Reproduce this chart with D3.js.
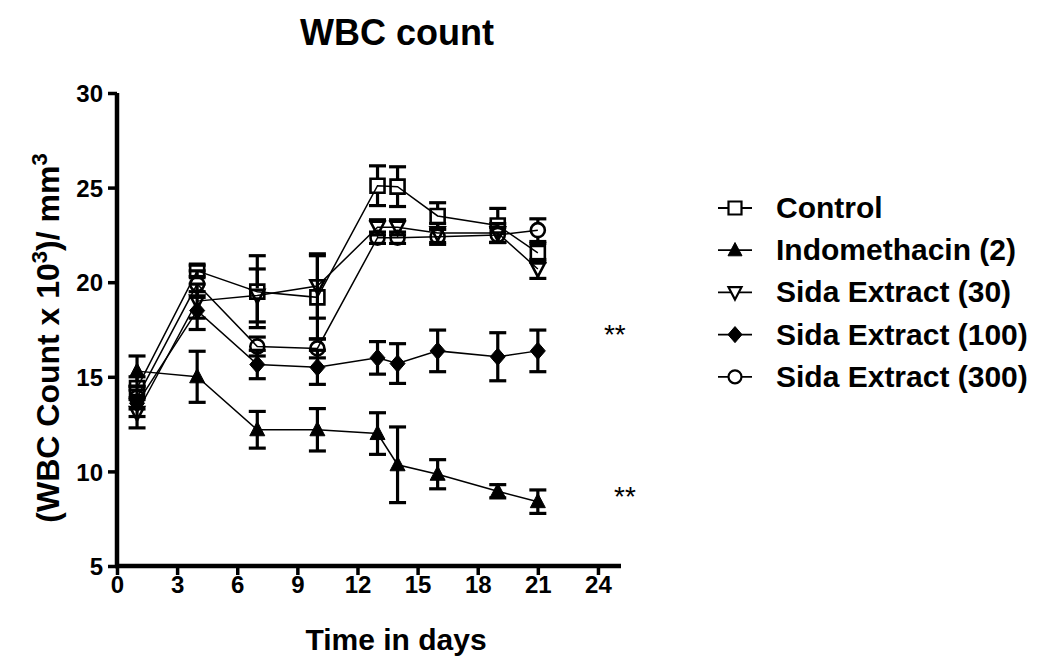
<!DOCTYPE html>
<html>
<head>
<meta charset="utf-8">
<script src="https://cdn.jsdelivr.net/npm/d3@7"></script>
<style>
  body { margin: 0; background: #fff; }
  text { font-family: "Liberation Sans", Arial, sans-serif; fill: #000; }
</style>
</head>
<body>
<div id="chart"></div>
<script>
// WBC count data (mean and SEM)
var days = [1, 4, 7, 10, 13, 14, 16, 19, 21];

var control      = [14.4, 20.6, 19.5, 19.2, 25.1, 25.05, 23.5, 23.0, 21.55];
var controlErr   = [0.6, 0.3, 1.9, 2.2, 1.05, 1.05, 0.7, 0.9, 0.5];

var indo         = [15.3, 15.0, 12.2, 12.2, 12.0, 10.35, 9.85, 8.95, 8.4];
var indoErr      = [0.8, 1.35, 0.97, 1.12, 1.1, 2.0, 0.77, 0.35, 0.62];

var sida30       = [13.1, 19.0, 19.3, 19.8, 22.9, 22.9, 22.6, 22.6, 20.7];
var sida30Err    = [0.8, 0.9, 1.4, 1.7, 0.4, 0.4, 0.5, 0.5, 0.5];

var sida100      = [13.6, 18.5, 15.65, 15.5, 16.0, 15.7, 16.37, 16.06, 16.37];
var sida100Err   = [0.7, 1.0, 0.75, 0.9, 0.86, 1.05, 1.1, 1.27, 1.1];

var sida300      = [13.9, 19.9, 16.6, 16.5, 22.35, 22.35, 22.4, 22.5, 22.75];
var sida300Err   = [0.6, 0.7, 0.5, 0.5, 0.3, 0.3, 0.4, 0.4, 0.6];

var seriesNames  = ['Control', 'Indomethacin (2)', 'Sida Extract (30)', 'Sida Extract (100)', 'Sida Extract (300)'];
var seriesShapes = ['square', 'triangle', 'triangleDown', 'diamond', 'circle'];

var xTicks = [0, 3, 6, 9, 12, 15, 18, 21, 24];
var yTicks = [5, 10, 15, 20, 25, 30];

// significance marks to the right of the last points
var marks = [
    { day: 24.3, value: 17.5, label: '**' },
    { day: 24.8, value: 8.9, label: '**' }
];

var width = 1040, height = 658;

var svg = d3.select('#chart')
            .append('svg')
            .attr('width', width)
            .attr('height', height);

var x = d3.scaleLinear().domain([0, 25]).range([117, 618]);
var y = d3.scaleLinear().domain([5, 30]).range([566, 93]);

var series = [
    { values: control, err: controlErr },
    { values: indo, err: indoErr },
    { values: sida30, err: sida30Err },
    { values: sida100, err: sida100Err },
    { values: sida300, err: sida300Err }
].map(function(s, i) {
    s.name = seriesNames[i];
    s.shape = seriesShapes[i];
    s.points = days.map(function(d, j) {
        return { day: d, value: s.values[j], err: s.err[j] };
    });
    return s;
});

// title
svg.append('text')
    .attr('x', 397)
    .attr('y', 45)
    .attr('text-anchor', 'middle')
    .style('font-size', '36px')
    .style('font-weight', 'bold')
    .text('WBC count');

// axes
var yAxis = d3.axisLeft(y).tickValues(yTicks).tickSize(9).tickPadding(5);
var xAxis = d3.axisBottom(x).tickValues(xTicks).tickSize(9).tickPadding(1);

var gy = svg.append('g')
    .attr('transform', 'translate(' + x(0) + ',0)')
    .call(yAxis);

var gx = svg.append('g')
    .attr('transform', 'translate(0,' + y(5) + ')')
    .call(xAxis);

[gx, gy].forEach(function(g) {
    g.select('.domain').attr('stroke', '#000').attr('stroke-width', 4.5);
    g.selectAll('.tick line').attr('stroke', '#000').attr('stroke-width', 3.5);
    g.selectAll('.tick text')
        .style('font-size', '24px')
        .style('font-weight', 'bold')
        .attr('fill', '#000');
});
// plain axis lines, no outer ticks
gy.select('.domain').attr('d', 'M0,' + y(30) + 'V' + (y(5) + 2));
gx.select('.domain').attr('d', 'M' + (x(0) - 2) + ',0H' + (x(25) + 3));
gy.selectAll('.tick text').attr('dy', '0.36em');

// axis titles
svg.append('text')
    .attr('x', 396)
    .attr('y', 650)
    .attr('text-anchor', 'middle')
    .style('font-size', '30px')
    .style('font-weight', 'bold')
    .text('Time in days');

var yLabel = svg.append('text')
    .attr('transform', 'translate(59,' + 338 + ') rotate(-90)')
    .attr('text-anchor', 'middle')
    .style('font-size', '32px')
    .style('font-weight', 'bold');
yLabel.append('tspan').text('(WBC Count x 10');
yLabel.append('tspan').attr('dy', -12).style('font-size', '22px').text('3');
yLabel.append('tspan').attr('dy', 12).text(')/ mm');
yLabel.append('tspan').attr('dy', -12).style('font-size', '22px').text('3');

// marker paths
function markerPath(shape, s) {
    var r = s / 2;
    if (shape === 'square')
        return 'M' + (-r) + ',' + (-r) + 'h' + s + 'v' + s + 'h' + (-s) + 'Z';
    if (shape === 'triangle')
        return 'M0,' + (-r * 1.1) + 'L' + (r) + ',' + (r * 0.8) + 'L' + (-r) + ',' + (r * 0.8) + 'Z';
    if (shape === 'triangleDown')
        return 'M0,' + (r * 1.1) + 'L' + (r) + ',' + (-r * 0.8) + 'L' + (-r) + ',' + (-r * 0.8) + 'Z';
    if (shape === 'diamond')
        return 'M0,' + (-r * 1.15) + 'L' + r + ',0L0,' + (r * 1.15) + 'L' + (-r) + ',0Z';
    // circle
    return 'M' + (-r) + ',0A' + r + ',' + r + ' 0 1,0 ' + r + ',0A' + r + ',' + r + ' 0 1,0 ' + (-r) + ',0Z';
}

function isFilled(shape) {
    return shape === 'triangle' || shape === 'diamond';
}

var line = d3.line()
    .x(function(d) { return x(d.day); })
    .y(function(d) { return y(d.value); });

var capW = 8.5;
var gap = 7;

// draw series back to front
series.slice().reverse().forEach(function(s) {
    var g = svg.append('g').attr('class', 'series');

    g.append('path')
        .datum(s.points)
        .attr('d', line)
        .attr('fill', 'none')
        .attr('stroke', '#000')
        .attr('stroke-width', 1.5);

    var eb = g.selectAll('.err')
        .data(s.points)
        .enter()
        .append('g')
        .attr('class', 'err');

    eb.each(function(d) {
        var e = d3.select(this);
        var cx = x(d.day);
        var yt = y(d.value + d.err), yb = y(d.value - d.err), yc = y(d.value);
        var o = isFilled(s.shape) ? 0 : gap;
        if (yc - o > yt) {
            e.append('line').attr('x1', cx).attr('x2', cx).attr('y1', yt).attr('y2', yc - o);
            e.append('line').attr('x1', cx).attr('x2', cx).attr('y1', yc + o).attr('y2', yb);
        }
        e.append('line').attr('x1', cx - capW).attr('x2', cx + capW).attr('y1', yt).attr('y2', yt);
        e.append('line').attr('x1', cx - capW).attr('x2', cx + capW).attr('y1', yb).attr('y2', yb);
        e.selectAll('line').attr('stroke', '#000').attr('stroke-width', 3.2);
    });

    g.selectAll('.marker')
        .data(s.points)
        .enter()
        .append('path')
        .attr('class', 'marker')
        .attr('transform', function(d) { return 'translate(' + x(d.day) + ',' + y(d.value) + ')'; })
        .attr('d', markerPath(s.shape, isFilled(s.shape) ? 15 : 14))
        .attr('fill', isFilled(s.shape) ? '#000' : 'none')
        .attr('stroke', '#000')
        .attr('stroke-width', isFilled(s.shape) ? 1 : 2.6);
});

// significance marks
svg.selectAll('.mark')
    .data(marks)
    .enter()
    .append('text')
    .attr('class', 'mark')
    .attr('x', function(d) { return x(d.day); })
    .attr('y', function(d) { return y(d.value) + 14; })
    .style('font-size', '28px')
    .text(function(d) { return d.label; });

// legend
var legend = svg.append('g')
    .attr('transform', 'translate(718,208)');

var item = legend.selectAll('.item')
    .data(series)
    .enter()
    .append('g')
    .attr('class', 'item')
    .attr('transform', function(d, i) { return 'translate(0,' + (i * 42.2) + ')'; });

item.append('line')
    .attr('x1', 0).attr('x2', 34)
    .attr('stroke', '#000')
    .attr('stroke-width', 1.8);

item.append('path')
    .attr('transform', 'translate(17,0)')
    .attr('d', function(d) { return markerPath(d.shape, isFilled(d.shape) ? 14 : 13); })
    .attr('fill', function(d) { return isFilled(d.shape) ? '#000' : '#fff'; })
    .attr('stroke', '#000')
    .attr('stroke-width', function(d) { return isFilled(d.shape) ? 1 : 2.2; });

item.append('text')
    .attr('x', 58)
    .attr('y', 10)
    .style('font-size', '30px')
    .style('font-weight', 'bold')
    .text(function(d) { return d.name; });
</script>
</body>
</html>
